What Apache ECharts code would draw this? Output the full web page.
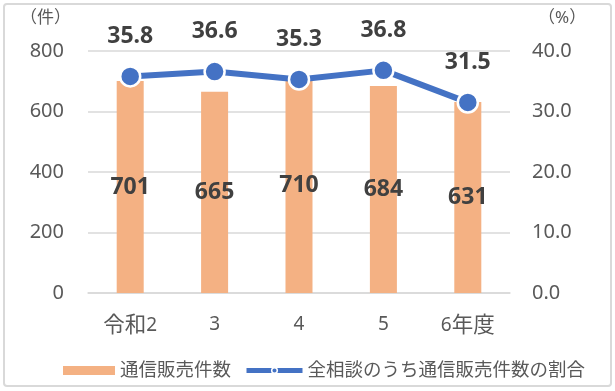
<!DOCTYPE html>
<html><head><meta charset="utf-8">
<script src="https://cdn.jsdelivr.net/npm/echarts@6/dist/echarts.min.js"></script>
<style>html,body{margin:0;padding:0;background:#fff}#c{width:615px;height:391px}</style>
</head><body><div id="c"></div>
<script>
const categories = ['令和2', '3', '4', '5', '6年度'];
const counts = [701, 665, 710, 684, 631];
const ratios = [35.8, 36.6, 35.3, 36.8, 31.5];
const leftTicks = { min: 0, max: 800, interval: 200 };
const rightTicks = { min: 0, max: 40, interval: 10 };
const barName = '通信販売件数';
const lineName = '全相談のうち通信販売件数の割合';

const FONT = "'Noto Sans', 'Noto Sans CJK JP', sans-serif";
const chart = echarts.init(document.getElementById('c'));
chart.setOption({
  animation: false,
  textStyle: { fontFamily: FONT },
  graphic: [
    { type: 'rect', shape: { x: 4, y: 4, width: 607, height: 382, r: 3 }, style: { fill: 'none', stroke: '#d9d9d9', lineWidth: 2 }, z: -1 },
    { type: 'text', left: 20, top: 10, style: { text: '（件）', fontSize: 17, fill: '#595959', fontFamily: FONT } },
    { type: 'text', left: 538, top: 10, style: { text: '（%）', fontSize: 17, fill: '#595959', fontFamily: FONT } }
  ],
  grid: { left: 88, right: 105, top: 51, bottom: 98, containLabel: false },
  legend: [
    {
      left: 58, top: 355,
      itemWidth: 52, itemHeight: 9,
      textStyle: { fontSize: 18.5, lineHeight: 21, color: '#595959', fontFamily: FONT },
      data: [{ name: barName, icon: 'rect' }]
    },
    {
      left: 239, top: 355,
      itemWidth: 56, itemHeight: 7,
      lineStyle: { width: 5 },
      itemStyle: { borderColor: '#fff', borderWidth: 1.5 },
      textStyle: { fontSize: 18.5, lineHeight: 21, color: '#595959', fontFamily: FONT },
      data: [{ name: lineName }]
    }
  ],
  xAxis: {
    type: 'category', data: categories,
    axisTick: { show: false },
    axisLine: { lineStyle: { color: '#d9d9d9', width: 1.5 } },
    axisLabel: {
      interval: 0,
      fontSize: 19, color: '#595959', margin: 22, fontFamily: FONT,
      formatter: v => v.replace(/([^0-9]+)/g, '{k|$1}'),
      rich: { k: { fontSize: 21.5, color: '#595959', fontFamily: FONT } }
    }
  },
  yAxis: [
    {
      type: 'value', min: leftTicks.min, max: leftTicks.max, interval: leftTicks.interval,
      axisLine: { show: false }, axisTick: { show: false },
      splitLine: { lineStyle: { color: '#d9d9d9', width: 1.5 } },
      axisLabel: { fontSize: 20, color: '#595959', margin: 24, fontFamily: FONT }
    },
    {
      type: 'value', min: rightTicks.min, max: rightTicks.max, interval: rightTicks.interval,
      axisLine: { show: false }, axisTick: { show: false },
      splitLine: { show: false },
      axisLabel: { fontSize: 20, color: '#595959', margin: 22, fontFamily: FONT, formatter: v => v.toFixed(1) }
    }
  ],
  series: [
    {
      name: barName, type: 'bar', data: counts, barWidth: '32%', yAxisIndex: 0,
      itemStyle: { color: '#F4B183' },
      label: { show: true, position: 'inside', fontSize: 23, fontWeight: 'bold', color: '#404040', fontFamily: FONT }
    },
    {
      name: lineName, type: 'line', data: ratios, yAxisIndex: 1,
      lineStyle: { color: '#4472C4', width: 6 },
      itemStyle: { color: '#4472C4', borderColor: '#fff', borderWidth: 2.5 },
      symbol: 'circle', symbolSize: 20,
      label: { show: true, position: 'top', distance: 17, fontSize: 23, fontWeight: 'bold', color: '#404040', fontFamily: FONT, formatter: p => p.value.toFixed(1) },
      z: 3
    }
  ]
});
</script></body></html>
